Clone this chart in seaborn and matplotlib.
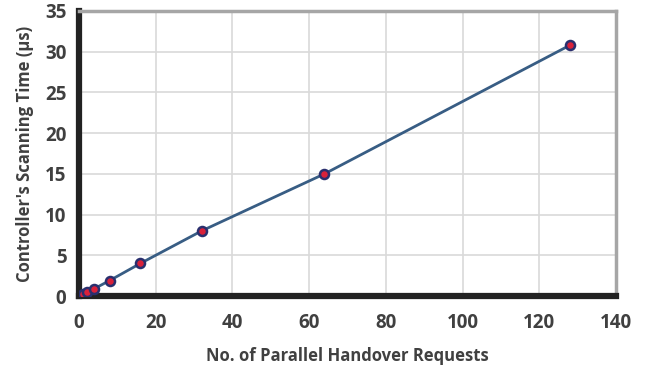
import seaborn as sns
import pandas as pd
import matplotlib.pyplot as plt

requests = [1, 2, 4, 8, 16, 32, 64, 128]
scan_time = [0.25, 0.5, 0.9, 1.9, 4.0, 8.0, 15.0, 30.8]
x_ticks = [0, 20, 40, 60, 80, 100, 120, 140]
y_ticks = [0, 5, 10, 15, 20, 25, 30, 35]

sns.set_style("white")
plt.rcParams['font.family'] = ['Open Sans', 'DejaVu Sans']

df = pd.DataFrame({"req": requests, "time": scan_time})

fig = plt.figure(figsize=(6.5, 3.68), dpi=100)
ax = fig.add_axes([79 / 650, 72 / 368, 537 / 650, 285 / 368])

sns.lineplot(data=df, x="req", y="time", ax=ax, color="#385d84", linewidth=2,
             marker="o", markersize=6.5, markerfacecolor="#d9213a",
             markeredgecolor="#2a2f6e", markeredgewidth=1.8, zorder=3)

ax.set_xlim(0, 140)
ax.set_ylim(0, 35)
ax.set_xticks(x_ticks)
ax.set_yticks(y_ticks)
ax.grid(True, color="#d9d9d9", linewidth=1.2)
ax.set_axisbelow(True)

for side in ["left", "bottom"]:
    ax.spines[side].set_color("#222222")
    ax.spines[side].set_linewidth(4.5)
for side in ["top", "right"]:
    ax.spines[side].set_color("#a6a6a6")
    ax.spines[side].set_linewidth(2.5)

ax.tick_params(axis="both", length=0, labelsize=13.5, labelcolor="#404040")
ax.tick_params(axis="x", pad=12)
ax.tick_params(axis="y", pad=9)
for lbl in ax.get_xticklabels() + ax.get_yticklabels():
    lbl.set_fontweight("bold")

ax.set_xlabel("No. of Parallel Handover Requests", fontsize=12, fontweight="bold",
              color="#404040", labelpad=10)
ax.set_ylabel("Controller's Scanning Time (µs)", fontsize=12, fontweight="bold",
              color="#404040", labelpad=8)

fig.savefig("out.png", dpi=100)
